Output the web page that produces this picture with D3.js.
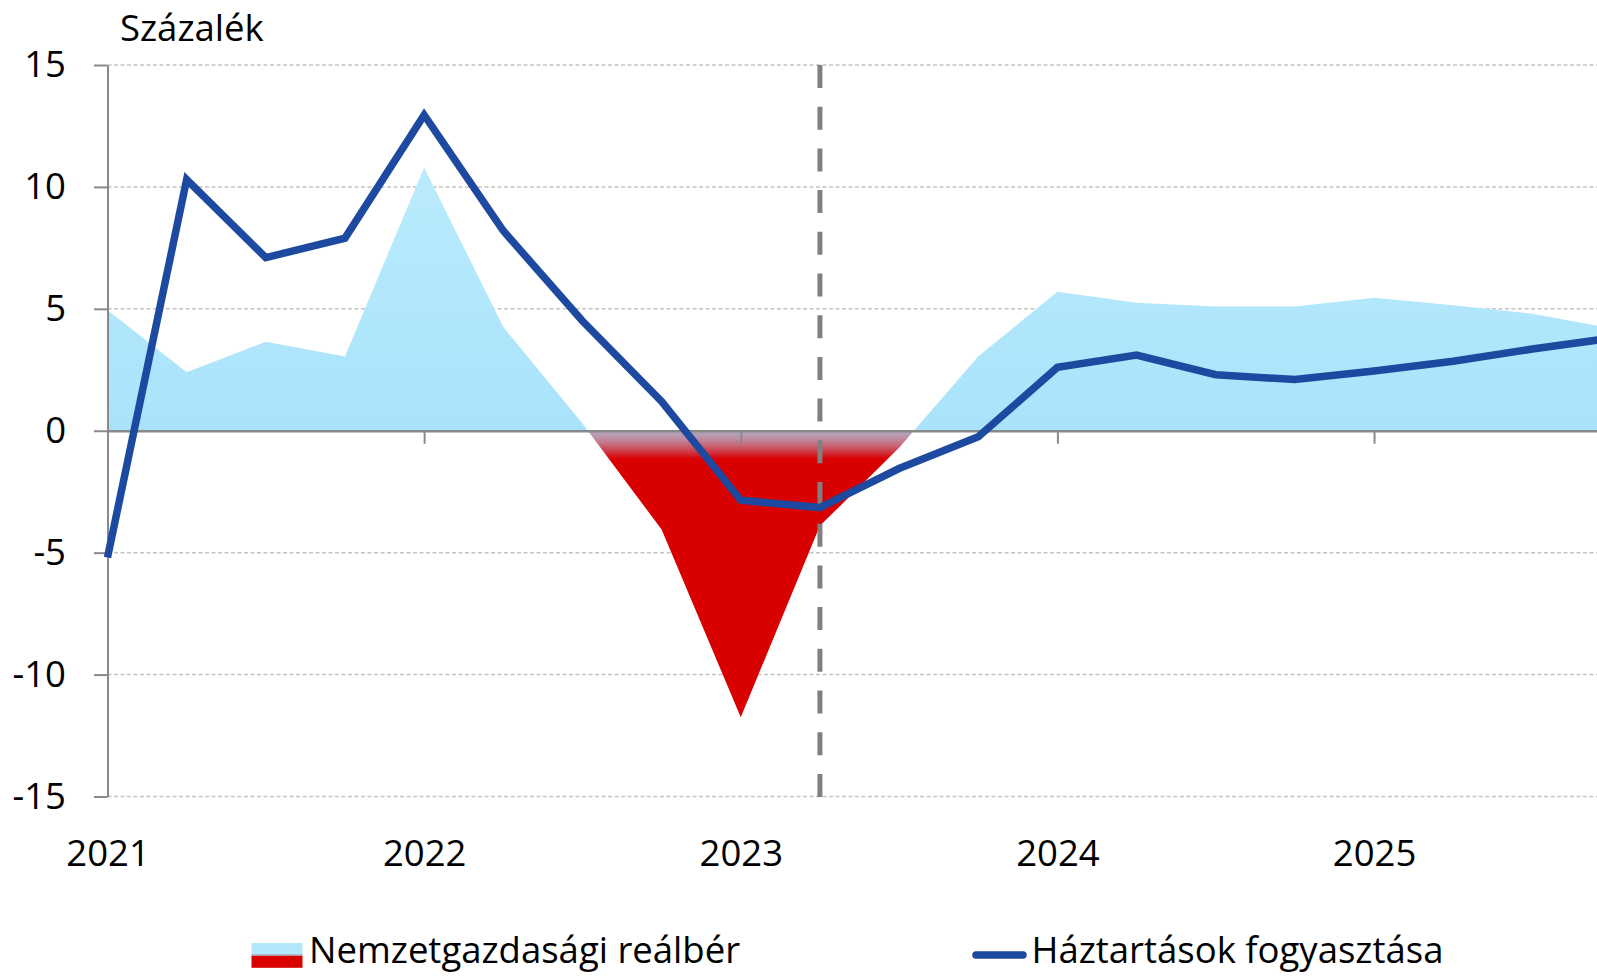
<!DOCTYPE html>
<html>
<head>
<meta charset="utf-8">
<script src="https://cdn.jsdelivr.net/npm/d3@7"></script>
<style>
  html, body { margin: 0; padding: 0; background: #ffffff; }
  svg { display: block; }
  text { font-family: "Open Sans", "Liberation Sans", sans-serif; fill: #000; }
</style>
</head>
<body>
<svg id="chart" width="1597" height="976"></svg>
<script>
// ---- data ----
const quarters = [
  "2021Q1","2021Q2","2021Q3","2021Q4",
  "2022Q1","2022Q2","2022Q3","2022Q4",
  "2023Q1","2023Q2","2023Q3","2023Q4",
  "2024Q1","2024Q2","2024Q3","2024Q4",
  "2025Q1","2025Q2","2025Q3","2025Q4"
];
const yearTicks = ["2021Q1","2022Q1","2023Q1","2024Q1","2025Q1"];
const yearLabels = ["2021","2022","2023","2024","2025"];
const realWage = [4.95, 2.4, 3.65, 3.05, 10.8, 4.25, 0.3, -4.05, -11.75, -3.9, -0.7, 3.05, 5.7, 5.25, 5.1, 5.1, 5.45, 5.15, 4.8, 4.2];
const consumption = [-5.2, 10.3, 7.1, 7.9, 12.95, 8.2, 4.5, 1.2, -2.85, -3.15, -1.55, -0.25, 2.6, 3.1, 2.3, 2.1, 2.45, 2.85, 3.35, 3.8];
const yTicks = [-15, -10, -5, 0, 5, 10, 15];
const forecastStart = "2023Q2";
const unitLabel = "Százalék";
const seriesNames = ["Nemzetgazdasági reálbér", "Háztartások fogyasztása"];

// ---- layout ----
const W = 1597, H = 976;
const svg = d3.select("#chart");
const x = d3.scalePoint().domain(quarters).range([107.5, 1611.5]);
const y = d3.scaleLinear().domain([-15, 15]).range([796.5, 65]);
const FONT = 36.5;
const axisGray = "#898989";
const blue = "#1d4aa0";

// gradient for the area
const defs = svg.append("defs");
const grad = defs.append("linearGradient")
  .attr("id", "areaGrad")
  .attr("gradientUnits", "userSpaceOnUse")
  .attr("x1", 0).attr("x2", 0)
  .attr("y1", y(15)).attr("y2", y(-15));
const off = v => (y(v) - y(15)) / (y(-15) - y(15));
[
  [11, "#bbebfd"],
  [0.001, "#a9e3fb"],
  [0, "#b2a8c4"],
  [-0.28, "#bb92a6"],
  [-0.56, "#c56c7c"],
  [-0.85, "#cf3a47"],
  [-1.15, "#d90000"],
  [-15, "#d90000"]
].forEach(([v, c]) => grad.append("stop").attr("offset", off(v)).attr("stop-color", c));

// gridlines
svg.append("g").selectAll("line")
  .data(yTicks.filter(d => d !== 0))
  .join("line")
  .attr("x1", x(quarters[0])).attr("x2", W)
  .attr("y1", d => y(d)).attr("y2", d => y(d))
  .attr("stroke", "#c4c4c4").attr("stroke-width", 1.5)
  .attr("stroke-dasharray", "4 2.5");

// area
const idx = quarters.map((q, i) => i);
svg.append("path")
  .datum(idx)
  .attr("fill", "url(#areaGrad)")
  .attr("d", d3.area()
    .x(i => x(quarters[i]))
    .y0(y(0))
    .y1(i => y(realWage[i])));

// y axis
const yAxis = svg.append("g")
  .attr("transform", `translate(${x(quarters[0])},0)`)
  .call(d3.axisLeft(y).tickValues(yTicks).tickSize(13.5).tickSizeOuter(0).tickPadding(28)
    .tickFormat(d => String(d)));
yAxis.select(".domain").attr("stroke", axisGray).attr("stroke-width", 2);
yAxis.selectAll(".tick line").attr("stroke", axisGray).attr("stroke-width", 2);
yAxis.selectAll(".tick text").attr("font-size", FONT).attr("font-family", "Open Sans").attr("fill", "#000");

// x axis at zero
const xAxis = svg.append("g")
  .attr("transform", `translate(0,${y(0)})`)
  .call(d3.axisBottom(x).tickValues(yearTicks).tickSize(13).tickSizeOuter(0).tickPadding(396)
    .tickFormat((d, i) => yearLabels[i]));
xAxis.select(".domain").attr("stroke", axisGray).attr("stroke-width", 2.5);
xAxis.selectAll(".tick line").attr("stroke", axisGray).attr("stroke-width", 2);
xAxis.selectAll(".tick text").attr("font-size", FONT).attr("font-family", "Open Sans").attr("fill", "#000");

// forecast divider
svg.append("line")
  .attr("x1", x(forecastStart)).attr("x2", x(forecastStart))
  .attr("y1", y(15)).attr("y2", y(-15) + 5)
  .attr("stroke", "#808080").attr("stroke-width", 5)
  .attr("stroke-dasharray", "23 18.7");

// consumption line
svg.append("path")
  .datum(idx)
  .attr("fill", "none")
  .attr("stroke", blue).attr("stroke-width", 7.5)
  .attr("stroke-linejoin", "miter")
  .attr("d", d3.line().x(i => x(quarters[i])).y(i => y(consumption[i])));

// unit label
svg.append("text")
  .attr("x", 120).attr("y", 41)
  .attr("font-size", FONT)
  .text(unitLabel);

// legend
const lg = svg.append("g");
lg.append("rect").attr("x", 251.5).attr("y", 943).attr("width", 51).attr("height", 12)
  .attr("fill", "#b3e8fc");
lg.append("rect").attr("x", 251.5).attr("y", 954.3).attr("width", 51).attr("height", 1.5)
  .attr("fill", "#a8a8b8");
lg.append("rect").attr("x", 251.5).attr("y", 955.8).attr("width", 51).attr("height", 12)
  .attr("fill", "#d90000");
lg.append("text").attr("x", 309).attr("y", 963).attr("font-size", FONT).text(seriesNames[0]);

lg.append("line").attr("x1", 976).attr("x2", 1023).attr("y1", 955).attr("y2", 955)
  .attr("stroke", blue).attr("stroke-width", 7.5).attr("stroke-linecap", "round");
lg.append("text").attr("x", 1031.5).attr("y", 963).attr("font-size", FONT).text(seriesNames[1]);
</script>
</body>
</html>
